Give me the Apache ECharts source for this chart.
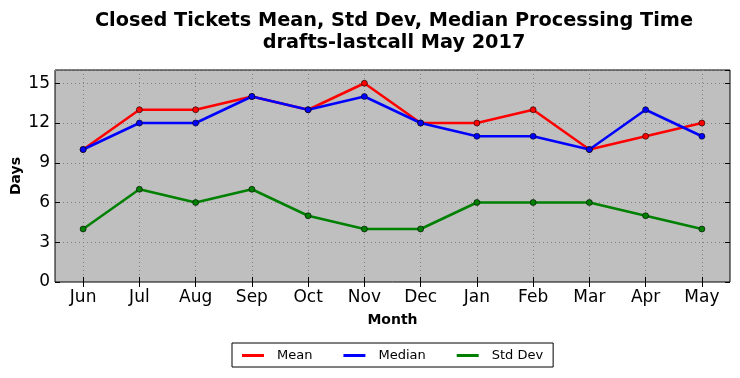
<!DOCTYPE html>
<html>
<head>
<meta charset="utf-8">
<script src="https://cdn.jsdelivr.net/npm/echarts@6/dist/echarts.min.js"></script>
<style>
html,body{margin:0;padding:0;background:#fff;}
#chart{width:740px;height:378px;}
</style>
</head>
<body>
<div id="chart"></div>
<script>
var months = ['Jun','Jul','Aug','Sep','Oct','Nov','Dec','Jan','Feb','Mar','Apr','May'];
var meanValues = [10, 13, 13, 14, 13, 15, 12, 12, 13, 10, 11, 12];
var medianValues = [10, 12, 12, 14, 13, 14, 12, 11, 11, 10, 13, 11];
var stdDevValues = [4, 7, 6, 7, 5, 4, 4, 6, 6, 6, 5, 4];
var titleText = 'Closed Tickets Mean, Std Dev, Median Processing Time\ndrafts-lastcall May 2017';
var yAxisTitle = 'Days';

var FONT = 'DejaVu Sans';
var chart = echarts.init(document.getElementById('chart'), null, {renderer: 'canvas'});

function mkSeries(name, data, color) {
  return {
    name: name,
    type: 'line',
    data: data,
    xAxisIndex: 0,
    yAxisIndex: 0,
    symbol: 'circle',
    symbolSize: 6,
    showAllSymbol: true,
    lineStyle: {color: color, width: 2.5},
    itemStyle: {color: color, borderColor: '#000', borderWidth: 0.6},
    emphasis: {disabled: true},
    animation: false
  };
}

var option = {
  animation: false,
  backgroundColor: '#ffffff',
  textStyle: {fontFamily: FONT},
  title: {
    text: titleText,
    left: 389,
    textAlign: 'center',
    top: 5,
    textStyle: {fontFamily: FONT, fontSize: 19.3, fontWeight: 'bold', color: '#000', lineHeight: 22}
  },
  graphic: [{
    type: 'text',
    x: 16,
    y: 176,
    rotation: Math.PI / 2,
    silent: true,
    style: {
      text: yAxisTitle,
      fontFamily: FONT,
      fontSize: 14,
      fontWeight: 'bold',
      fill: '#000',
      align: 'center',
      verticalAlign: 'middle'
    }
  }],
  legend: {
    data: ['Mean', 'Median', 'Std Dev'],
    left: 232,
    top: 343,
    padding: [6, 10, 5, 10],
    borderColor: '#000',
    borderWidth: 1,
    itemGap: 31,
    itemWidth: 22,
    itemHeight: 3,
    icon: 'rect',
    itemStyle: {borderWidth: 0},
    textStyle: {fontFamily: FONT, fontSize: 13, color: '#000', padding: [0, 0, 0, 8]}
  },
  grid: {
    left: 55, right: 10, top: 70, bottom: 96,
    show: true,
    backgroundColor: '#bfbfbf',
    borderColor: '#000',
    borderWidth: 1,
    containLabel: false,
    outerBoundsMode: 'none'
  },
  xAxis: [{
    type: 'category',
    data: months,
    boundaryGap: true,
    position: 'bottom',
    name: 'Month',
    nameLocation: 'middle',
    nameGap: 31,
    nameTextStyle: {fontFamily: FONT, fontSize: 14, fontWeight: 'bold', color: '#000'},
    axisLine: {show: false},
    axisTick: {show: true, alignWithLabel: true, inside: true, length: 5, lineStyle: {color: '#000'}},
    axisLabel: {fontFamily: FONT, fontSize: 17, color: '#000', margin: 7, interval: 0},
    splitLine: {show: true, alignWithLabel: true, lineStyle: {color: '#808080', type: [1, 3], width: 1}}
  }, {
    type: 'category',
    data: months,
    boundaryGap: true,
    position: 'top',
    axisLine: {show: false},
    axisTick: {show: true, alignWithLabel: true, inside: true, length: 5, lineStyle: {color: '#000'}},
    axisLabel: {show: false},
    splitLine: {show: false}
  }],
  yAxis: [{
    type: 'value',
    min: 0,
    max: 16,
    interval: 3,
    position: 'left',
    axisLine: {show: false},
    axisTick: {show: true, inside: true, length: 5, lineStyle: {color: '#000'}},
    axisLabel: {fontFamily: FONT, fontSize: 17, color: '#000', margin: 5, showMaxLabel: false},
    splitLine: {show: true, lineStyle: {color: '#808080', type: [1, 3], width: 1}}
  }, {
    type: 'value',
    min: 0,
    max: 16,
    interval: 3,
    position: 'right',
    axisLine: {show: false},
    axisTick: {show: true, inside: true, length: 5, lineStyle: {color: '#000'}},
    axisLabel: {show: false},
    splitLine: {show: false}
  }],
  series: [
    mkSeries('Mean', meanValues, '#ff0000'),
    mkSeries('Median', medianValues, '#0000ff'),
    mkSeries('Std Dev', stdDevValues, '#008000')
  ]
};
chart.setOption(option);
</script>
</body>
</html>
